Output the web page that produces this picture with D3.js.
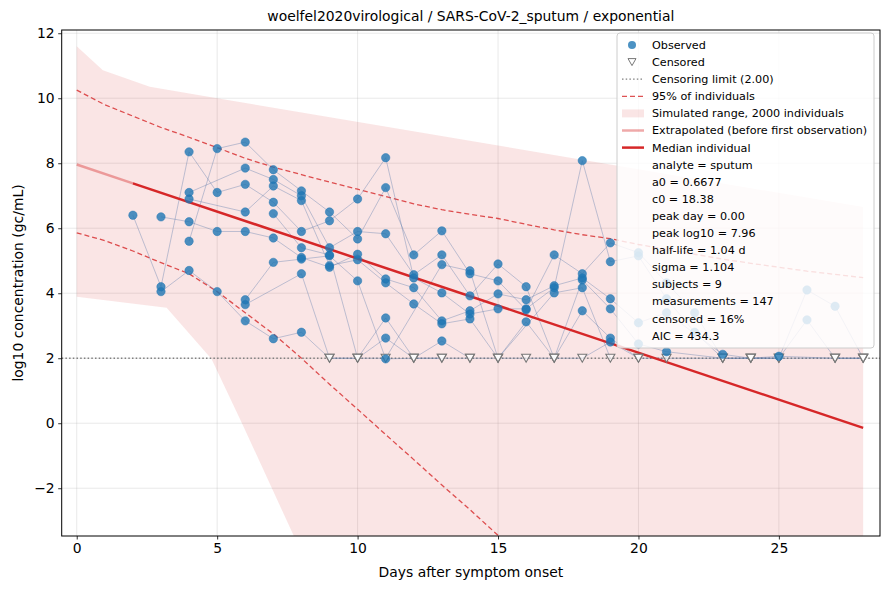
<!DOCTYPE html>
<html>
<head>
<meta charset="utf-8">
<script src="https://cdn.jsdelivr.net/npm/d3@7"></script>
<style>
  body { margin: 0; background: #fff; }
  svg { font-family: "DejaVu Sans", sans-serif; }
</style>
</head>
<body>
<svg id="viz"></svg>
<script>
// per subject: [day, log10 value]; null value = censored (drawn at the limit)
const subjA = [[2,6.4],[3,4.2],[4,8.35],[5,7.1],[6,7.35],[7,6.8],[8,5.9],[9,6.23],[10,6.9],[11,8.17],[12,4.47],[13,4.01],[14,3.36],[15,3.52],[16,3.52],[17,4.17],[18,8.08],[19,4.97],[20,5.15],[21,3.83],[22,2.8],[23,null],[24,null],[25,2.06],[27,null],[28,null]];
const subjB = [[3,6.35],[4,6.2],[5,5.9],[6,5.9],[7,5.7],[8,5.1],[9,4.8],[10,5.2],[11,4.44],[12,4.17],[13,3.15],[14,3.46],[15,3.98],[16,3.8],[17,4.23],[18,4.47],[19,3.83],[20,3.09],[21,3.4],[23,2.12],[24,null],[25,null],[26,3.18],[27,null],[28,null]];
const subjC = [[3,4.05],[4,4.7],[5,4.05],[6,3.15],[7,2.6],[8,2.8],[9,null],[10,null],[11,3.24],[12,null],[13,2.53],[14,null],[15,null],[16,null],[17,null],[18,null],[19,2.5],[20,null],[21,null],[23,null],[24,null],[25,null],[27,null],[28,null]];
const subjD = [[4,5.6],[5,8.45],[6,8.65],[7,7.8],[8,7.15],[9,6.5],[10,5.67],[11,7.25],[12,5.18],[13,5.92],[14,4.6],[15,4.38],[16,3.49],[17,5.18],[18,4.6],[19,5.55],[20,5.25],[21,4.32],[22,3.4],[23,null],[24,null],[25,null],[26,4.1],[27,3.6],[28,null]];
const subjE = [[4,7.1],[6,7.85],[7,7.5],[8,7.0],[9,5.4],[10,5.9],[11,5.83],[12,4.57],[13,5.18],[14,3.92],[15,4.9],[16,4.2],[17,null],[18,4.41],[19,3.52],[20,2.44],[21,2.2],[23,null]];
const subjF = [[4,6.9],[6,6.5],[7,7.3],[8,6.85],[9,4.85],[10,5.03],[11,4.32],[12,3.67],[13,3.06],[14,3.21],[15,null],[16,3.12],[17,null],[18,3.46],[19,2.62],[20,null]];
const subjG = [[6,3.8],[7,4.95],[8,5.05],[9,5.15],[10,4.38],[11,1.98],[12,null],[13,null],[14,null]];
const subjH = [[6,3.65],[8,4.6],[9,null],[10,null],[11,2.62],[12,null],[13,null]];
const subjI = [[7,6.45],[8,5.4],[9,5.18],[10,null],[11,null],[13,4.88],[14,4.69],[15,null],[17,4.01],[18,4.17],[19,null]];
const subjects = [subjA, subjB, subjC, subjD, subjE, subjF, subjG, subjH, subjI];

const censorLimit = 2.0;

// model curves
const medianStart = 7.96;      // peak log10 at day 0
const halfLife = 1.04;         // days
const firstObsDay = 2;
const lastDay = 28;

const dashDays  = [0, 1, 2, 3, 4, 5, 6, 7, 8, 9, 10, 11, 12, 13, 14, 15, 16, 17, 18, 19, 20, 21, 22, 23, 24, 25, 26, 27, 28];
const dashUpper = [10.25, 9.8, 9.45, 9.1, 8.8, 8.48, 8.15, 7.88, 7.65, 7.42, 7.2, 6.98, 6.75, 6.57, 6.43, 6.3, 6.12, 5.95, 5.8, 5.68, 5.5, 5.35, 5.2, 5.05, 4.92, 4.8, 4.68, 4.58, 4.48];
const dashLower = [5.86, 5.62, 5.3, 4.94, 4.6, 4.05, 3.4, 2.75, 2.0, 1.2, 0.43, -0.35, -1.12, -1.9, -2.66, -3.45, -4.2, -5.0, -5.8, -6.6, -7.4, -8.2, -9.0, -9.8, -10.6, -11.4, -12.2, -13.0, -13.8];

const bandUpperDays = [0, 0.93, 2.6, 5, 28];
const bandUpper     = [11.6, 10.86, 10.35, 10.0, 6.65];
const bandLowerDays = [0, 3.2, 4.8, 5.9, 7.8, 10, 28];
const bandLower     = [3.89, 3.55, 1.98, -0.03, -3.6, -7.8, -40];

const xTicks = [0, 5, 10, 15, 20, 25];
const yTicks = [-2, 0, 2, 4, 6, 8, 10, 12];

const statsLines = ["analyte = sputum", "a0 = 0.6677", "c0 = 18.38", "peak day = 0.00", "peak log10 = 7.96",
  "half-life = 1.04 d", "sigma = 1.104", "subjects = 9", "measurements = 147", "censored = 16%", "AIC = 434.3"];

const width = 890, height = 590;
const margin = { top: 30, right: 10, bottom: 54, left: 61.7 };

const svg = d3.select("#viz")
    .attr("width", width)
    .attr("height", height)
    .attr("viewBox", [0, 0, width, height]);

const x = d3.scaleLinear().domain([-0.535, 28.6]).range([margin.left, width - margin.right]);
const y = d3.scaleLinear().domain([-3.47, 12.1]).range([height - margin.bottom, margin.top]);

const red = "#d62728";

// grid
svg.append("g").selectAll("line").data(xTicks).join("line")
    .attr("x1", d => x(d)).attr("x2", d => x(d))
    .attr("y1", y.range()[1]).attr("y2", y.range()[0])
    .attr("stroke", "#b0b0b0").attr("stroke-opacity", 0.35).attr("stroke-width", 0.8);
svg.append("g").selectAll("line").data(yTicks).join("line")
    .attr("y1", d => y(d)).attr("y2", d => y(d))
    .attr("x1", x.range()[0]).attr("x2", x.range()[1])
    .attr("stroke", "#b0b0b0").attr("stroke-opacity", 0.35).attr("stroke-width", 0.8);

svg.append("clipPath").attr("id", "plotclip")
  .append("rect")
    .attr("x", x.range()[0]).attr("y", y.range()[1])
    .attr("width", x.range()[1] - x.range()[0])
    .attr("height", y.range()[0] - y.range()[1]);

const g = svg.append("g").attr("clip-path", "url(#plotclip)");

// simulated band
const upperPts = bandUpperDays.map((d, i) => [d, bandUpper[i]]);
const lowerPts = bandLowerDays.map((d, i) => [d, bandLower[i]]).reverse();
g.append("path")
    .attr("d", d3.line().x(d => x(d[0])).y(d => y(d[1]))(upperPts.concat(lowerPts)) + "Z")
    .attr("fill", red).attr("fill-opacity", 0.12);

// 95% of individuals
[dashUpper, dashLower].forEach(arr => {
  g.append("path")
    .attr("d", d3.line().x((d, i) => x(dashDays[i])).y(d => y(d))(arr))
    .attr("fill", "none").attr("stroke", red).attr("stroke-opacity", 0.8)
    .attr("stroke-width", 1.3).attr("stroke-dasharray", "5,3");
});

// censoring limit
g.append("line")
    .attr("x1", x.range()[0]).attr("x2", x.range()[1])
    .attr("y1", y(censorLimit)).attr("y2", y(censorLimit))
    .attr("stroke", "#808080").attr("stroke-width", 1.3).attr("stroke-dasharray", "1.5,2.2");

// subject trajectories
const lineGen = d3.line().x(d => x(d[0])).y(d => y(d[1] === null ? censorLimit : d[1]));
g.append("g").selectAll("path").data(subjects).join("path")
    .attr("d", lineGen)
    .attr("fill", "none").attr("stroke", "#4a6fa5").attr("stroke-opacity", 0.35).attr("stroke-width", 1);

// median individual
const decay = Math.log10(2) / halfLife;
const med = t => medianStart - decay * t;
g.append("line")
    .attr("x1", x(0)).attr("y1", y(med(0)))
    .attr("x2", x(firstObsDay)).attr("y2", y(med(firstObsDay)))
    .attr("stroke", red).attr("stroke-opacity", 0.4).attr("stroke-width", 2.5);
g.append("line")
    .attr("x1", x(firstObsDay)).attr("y1", y(med(firstObsDay)))
    .attr("x2", x(lastDay)).attr("y2", y(med(lastDay)))
    .attr("stroke", red).attr("stroke-width", 2.5);

// points
const allPts = subjects.flat();
const observed = allPts.filter(d => d[1] !== null);
const censored = allPts.filter(d => d[1] === null);

const tri = "M-4.5,-4 L4.5,-4 L0,4 Z";
g.append("g").selectAll("path").data(censored).join("path")
    .attr("transform", d => `translate(${x(d[0])},${y(censorLimit)})`)
    .attr("d", tri)
    .attr("fill", "#fff").attr("fill-opacity", 0.6)
    .attr("stroke", "#777").attr("stroke-width", 1.1);

g.append("g").selectAll("circle").data(observed).join("circle")
    .attr("cx", d => x(d[0])).attr("cy", d => y(d[1]))
    .attr("r", 4.2)
    .attr("fill", "#1f77b4").attr("fill-opacity", 0.8)
    .attr("stroke", "#1f77b4").attr("stroke-opacity", 0.8).attr("stroke-width", 0.6);

// axes
const xAxis = svg.append("g")
    .attr("transform", `translate(0,${y.range()[0]})`)
    .call(d3.axisBottom(x).tickValues(xTicks).tickSize(3.5).tickPadding(3.5));
const yAxis = svg.append("g")
    .attr("transform", `translate(${x.range()[0]},0)`)
    .call(d3.axisLeft(y).tickValues(yTicks).tickSize(3.5).tickPadding(3.5)
      .tickFormat(d => d < 0 ? "\u2212" + Math.abs(d) : d));
[xAxis, yAxis].forEach(a => {
  a.select(".domain").remove();
  a.selectAll("text").attr("font-size", 13.9).attr("fill", "#000").attr("font-family", "DejaVu Sans");
  a.selectAll("line").attr("stroke", "#000").attr("stroke-width", 0.8);
});

// frame
svg.append("rect")
    .attr("x", x.range()[0]).attr("y", y.range()[1])
    .attr("width", x.range()[1] - x.range()[0])
    .attr("height", y.range()[0] - y.range()[1])
    .attr("fill", "none").attr("stroke", "#000").attr("stroke-width", 1);

// labels
svg.append("text")
    .attr("x", (x.range()[0] + x.range()[1]) / 2).attr("y", 21)
    .attr("text-anchor", "middle").attr("font-size", 13.9)
    .text("woelfel2020virological / SARS-CoV-2_sputum / exponential");
svg.append("text")
    .attr("x", (x.range()[0] + x.range()[1]) / 2).attr("y", 577)
    .attr("text-anchor", "middle").attr("font-size", 13.9)
    .text("Days after symptom onset");
svg.append("text")
    .attr("transform", `translate(23,${(y.range()[0] + y.range()[1]) / 2}) rotate(-90)`)
    .attr("text-anchor", "middle").attr("font-size", 13.9)
    .text("log10 concentration (gc/mL)");

// legend
const lg = svg.append("g").attr("transform", "translate(617,33)");
lg.append("rect")
    .attr("width", 257).attr("height", 315).attr("rx", 3)
    .attr("fill", "#fff").attr("fill-opacity", 0.82)
    .attr("stroke", "#cccccc").attr("stroke-width", 1);

const rowY = i => 12 + i * 17.1;
const hx0 = 5, hx1 = 27, tx = 35;
const legendItems = ["Observed", "Censored", "Censoring limit (2.00)", "95% of individuals",
  "Simulated range, 2000 individuals", "Extrapolated (before first observation)", "Median individual"].concat(statsLines);

lg.append("circle").attr("cx", 15).attr("cy", rowY(0)).attr("r", 4)
    .attr("fill", "#1f77b4").attr("fill-opacity", 0.8);
lg.append("path").attr("transform", `translate(15,${rowY(1)})`).attr("d", "M-4,-3.5 L4,-3.5 L0,3.5 Z")
    .attr("fill", "#fff").attr("stroke", "#777").attr("stroke-width", 1);
lg.append("line").attr("x1", hx0).attr("x2", hx1).attr("y1", rowY(2)).attr("y2", rowY(2))
    .attr("stroke", "#808080").attr("stroke-width", 1.3).attr("stroke-dasharray", "1.5,2.2");
lg.append("line").attr("x1", hx0).attr("x2", hx1).attr("y1", rowY(3)).attr("y2", rowY(3))
    .attr("stroke", red).attr("stroke-opacity", 0.8).attr("stroke-width", 1.3).attr("stroke-dasharray", "5,3");
lg.append("rect").attr("x", hx0).attr("y", rowY(4) - 4).attr("width", hx1 - hx0).attr("height", 8)
    .attr("fill", red).attr("fill-opacity", 0.12);
lg.append("line").attr("x1", hx0).attr("x2", hx1).attr("y1", rowY(5)).attr("y2", rowY(5))
    .attr("stroke", red).attr("stroke-opacity", 0.4).attr("stroke-width", 2.5);
lg.append("line").attr("x1", hx0).attr("x2", hx1).attr("y1", rowY(6)).attr("y2", rowY(6))
    .attr("stroke", red).attr("stroke-width", 2.5);

lg.selectAll("text.item").data(legendItems).join("text")
    .attr("class", "item")
    .attr("x", tx).attr("y", (d, i) => rowY(i))
    .attr("dy", "0.35em")
    .attr("font-size", 11.2)
    .attr("fill", "#000")
    .text(d => d);
</script>
</body>
</html>
